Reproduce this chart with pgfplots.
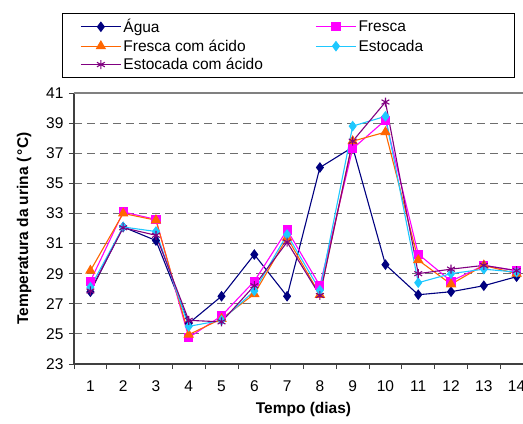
\documentclass[border=0pt]{standalone}
\usepackage{fontspec}
\setmainfont{Liberation Sans}
\usepackage{pgfplots}
\pgfplotsset{compat=1.18}
\definecolor{cnavy}{RGB}{0,0,128}
\definecolor{cmag}{RGB}{255,0,255}
\definecolor{corange}{RGB}{255,102,0}
\definecolor{ccyan}{RGB}{30,200,255}
\definecolor{cpurple}{RGB}{128,0,128}
\definecolor{gridgray}{RGB}{110,110,110}
\newcommand{\fs}{\fontsize{15.5bp}{18bp}\selectfont}
\begin{document}
\begin{tikzpicture}
\begin{axis}[
  scale only axis,
  width=459bp, height=271bp,
  xmin=0.5, xmax=14.5, ymin=23, ymax=41,
  axis x line*=bottom, axis y line*=left,
  axis line style={draw=black!75, line width=1.3bp},
  xtick={1,...,14},
  minor xtick={0.5,1.5,...,14.5},
  ytick={23,25,...,41},
  tick align=outside,
  major x tick style={draw=none},
  minor tick length=5bp,
  major tick length=5bp,
  every tick/.style={black!75, line width=0.8bp},
  ymajorgrids,
  major grid style={dashed, gridgray, line width=1.2bp, dash pattern=on 8bp off 5bp},
  /pgf/number format/assume math mode=true,
  tick label style={font=\fs},
  xticklabel style={yshift=-8bp},
  yticklabel style={xshift=-2bp},
  xlabel={\textbf{Tempo (dias)}},
  ylabel={\textbf{Temperatura da urina (\,°C)}},
  label style={font=\fs},
  xlabel style={yshift=-4bp},
  ylabel style={yshift=8bp},
  legend columns=2,
  legend cell align=left,
  legend style={at={(-0.0261,1.2952)}, anchor=north west, font=\fs,
     draw=black, line width=0.6bp, inner xsep=18bp, inner ysep=4bp, row sep=1.5bp},
  legend image code/.code={\draw[mark repeat=2,mark phase=2] plot coordinates {(0bp,0bp) (20bp,0bp) (40bp,0bp)};},
]
\addplot[color=cnavy, line width=1.1bp, mark=diamond*, mark size=4.5bp] coordinates {
(1,27.8) (2,32.1) (3,31.2) (4,25.7) (5,27.5) (6,30.27) (7,27.5) (8,36.05) (9,37.4) (10,29.6) (11,27.6) (12,27.8) (13,28.2) (14,28.8)};
\addlegendentry{\makebox[190bp][l]{Água}}
\addplot[color=cmag, line width=1.1bp, mark=square*, mark size=4bp] coordinates {
(1,28.5) (2,33.1) (3,32.6) (4,24.75) (5,26.2) (6,28.5) (7,31.9) (8,28.2) (9,37.3) (10,39.2) (11,30.3) (12,28.5) (13,29.55) (14,29.2)};
\addlegendentry{\makebox[136bp][l]{Fresca}}
\addplot[color=corange, line width=1.1bp, mark=triangle*, mark size=5bp] coordinates {
(1,29.2) (2,33.0) (3,32.55) (4,24.95) (5,26.0) (6,27.65) (7,31.4) (8,27.6) (9,37.8) (10,38.4) (11,29.9) (12,28.3) (13,29.55) (14,29.0)};
\addlegendentry{\makebox[190bp][l]{Fresca com ácido}}
\addplot[color=ccyan, line width=1.1bp, mark=diamond*, mark size=4.5bp] coordinates {
(1,28.1) (2,32.1) (3,31.8) (4,25.5) (5,25.9) (6,27.85) (7,31.6) (8,27.9) (9,38.8) (10,39.45) (11,28.4) (12,29.0) (13,29.3) (14,29.1)};
\addlegendentry{\makebox[136bp][l]{Estocada}}
\addplot[color=cpurple, line width=1.1bp, mark=asterisk, mark size=4.5bp] coordinates {
(1,27.85) (2,32.05) (3,31.55) (4,25.9) (5,25.8) (6,28.2) (7,31.1) (8,27.55) (9,37.8) (10,40.4) (11,29.0) (12,29.3) (13,29.55) (14,29.2)};
\addlegendentry{\makebox[190bp][l]{Estocada com ácido}}
\draw[gray, line width=1.2bp] (axis cs:0.5,41) -- (axis cs:14.5,41);
\end{axis}
\pgfresetboundingbox
\path[use as bounding box] (-74bp,-60bp) rectangle (449bp,364bp);
\end{tikzpicture}
\end{document}
